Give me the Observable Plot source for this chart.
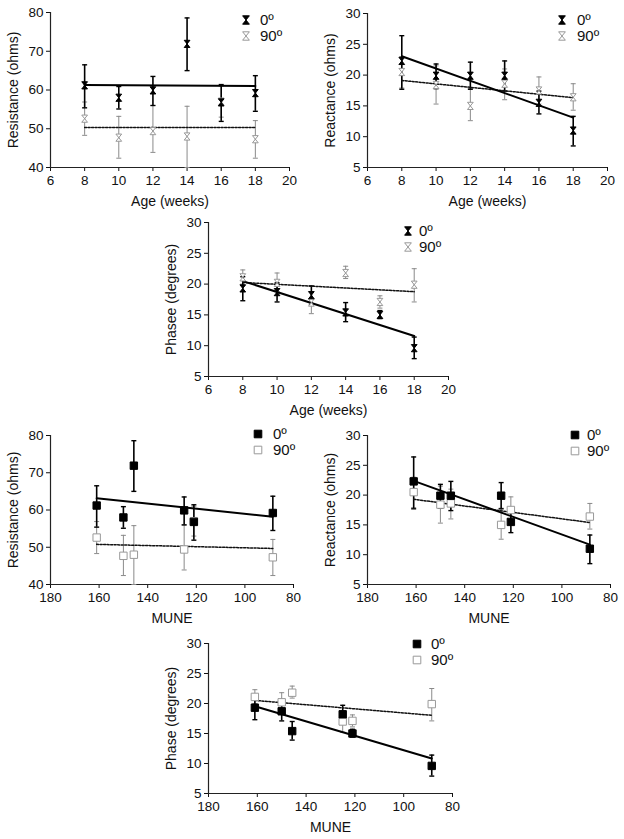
<!DOCTYPE html>
<html><head><meta charset="utf-8">
<script src="https://cdn.jsdelivr.net/npm/d3@7"></script>
<script src="https://cdn.jsdelivr.net/npm/@observablehq/plot@0.6"></script>
<style>
body{margin:0;background:#fff;}
#wrap{position:relative;width:624px;height:839px;font-family:"Liberation Sans",Arial,sans-serif;color:#111;overflow:hidden;}
.panel{position:absolute;}
.leg{position:absolute;font-size:15px;line-height:16px;transform:translateY(-50%);white-space:nowrap;}
.legsym{position:absolute;}
</style></head><body><div id="wrap"></div>
<script>
// ---- data ----
const ages = [8, 10, 12, 14, 16, 18];
const mune = [161, 150, 125, 145.7, 121, 88.5];

const res0   = [61.2, 58.0, 59.9, 71.9, 56.8, 59.2];
const res0Lo = [55.4, 55.1, 56.0, 65.0, 51.9, 54.5];
const res0Hi = [66.5, 60.9, 63.5, 78.6, 61.4, 63.7];
const res90   = [52.6, 47.7, 49.4, 48.0, 57.0, 47.3];
const res90Lo = [48.3, 42.4, 43.9, 40.0, 53.0, 42.4];
const res90Hi = [56.9, 53.2, 56.0, 55.8, 61.0, 52.1];

const reac0   = [22.3, 19.9, 19.9, 19.9, 15.5, 11.0];
const reac0Lo = [17.7, 17.8, 17.7, 17.4, 13.7, 8.5];
const reac0Hi = [26.4, 21.8, 22.1, 22.3, 17.4, 13.3];
const reac90   = [20.5, 18.4, 15.0, 18.6, 17.5, 16.4];
const reac90Lo = [17.9, 15.3, 12.6, 16.0, 15.3, 14.3];
const reac90Hi = [23.0, 21.5, 17.8, 21.0, 19.7, 18.6];

const phase0   = [19.3, 18.7, 18.2, 15.4, 15.0, 9.6];
const phase0Lo = [17.3, 17.1, 16.7, 13.9, 14.4, 7.9];
const phase0Hi = [21.2, 20.2, 19.7, 17.0, 15.7, 11.4];
const phase90   = [21.1, 20.2, 17.0, 21.8, 17.1, 19.9];
const phase90Lo = [20.0, 18.8, 15.2, 20.9, 16.1, 17.1];
const phase90Hi = [22.3, 21.8, 18.8, 22.9, 18.1, 22.5];

const ageTicks = [6, 8, 10, 12, 14, 16, 18, 20];
const muneTicks = [180, 160, 140, 120, 100, 80];
const resTicks = [40, 50, 60, 70, 80];
const reacTicks = [5, 10, 15, 20, 25, 30];
const phaseTicks = [5, 10, 15, 20, 25, 30];
const seriesLabels = ["0º", "90º"];

// ---- helpers ----
const rows = (xs, y, lo, hi) => xs.map((x, i) => ({x, y: y[i], lo: lo[i], hi: hi[i]}));
const BLACK = "#000", GRAY = "#999", EGRAY = "#8a8a8a";

const hourglass = {draw(ctx, size) {
  const r = Math.sqrt(size / Math.PI), w = r * 0.8, h = r;
  ctx.moveTo(-w, -h); ctx.lineTo(w, -h); ctx.lineTo(-w, h); ctx.lineTo(w, h); ctx.closePath();
}};
const squareSym = {draw(ctx, size) {
  const r = Math.sqrt(size / Math.PI);
  ctx.moveTo(-r, -r); ctx.lineTo(r, -r); ctx.lineTo(r, r); ctx.lineTo(-r, r); ctx.closePath();
}};
const cap = {draw(ctx, size) {
  const r = Math.sqrt(size / Math.PI);
  ctx.moveTo(-r, 0); ctx.lineTo(r, 0);
}};

const wrap = document.getElementById("wrap");

function panel(o) {
  const mL = 50, mT = 12, mR = 10, mB = 45;
  const d0 = o.d0, d90 = o.d90;
  const sym = o.symbol, symR = o.symR;
  const plot = Plot.plot({
    width: o.w + mL + mR, height: o.h + mT + mB,
    marginLeft: mL, marginTop: mT, marginRight: mR, marginBottom: mB,
    style: {fontSize: "13.5px", fontFamily: "'Liberation Sans', Arial, sans-serif", color: "#111", background: "transparent", overflow: "visible"},
    x: {domain: o.xDomain, ticks: o.xTicks, tickSize: 4, tickPadding: 4, label: null, tickFormat: d => d},
    y: {domain: o.yDomain, ticks: o.yTicks, tickSize: 4, tickPadding: 3, label: null, tickFormat: d => d},
    marks: [
      Plot.ruleX([o.xDomain[0]], {stroke: "#222", strokeWidth: 1.2}),
      Plot.ruleY([o.yDomain[0]], {stroke: "#222", strokeWidth: 1.2}),
      // 90 error bars
      Plot.ruleX(d90, {x: "x", y1: "lo", y2: "hi", stroke: EGRAY, strokeWidth: 1}),
      Plot.dot(d90, {x: "x", y: "lo", symbol: cap, r: 2.5, stroke: EGRAY, fill: "none", strokeWidth: 1}),
      Plot.dot(d90, {x: "x", y: "hi", symbol: cap, r: 2.5, stroke: EGRAY, fill: "none", strokeWidth: 1}),
      // 0 error bars
      Plot.ruleX(d0, {x: "x", y1: "lo", y2: "hi", stroke: BLACK, strokeWidth: 1.6}),
      Plot.dot(d0, {x: "x", y: "lo", symbol: cap, r: 2.5, stroke: BLACK, fill: "none", strokeWidth: 1.4}),
      Plot.dot(d0, {x: "x", y: "hi", symbol: cap, r: 2.5, stroke: BLACK, fill: "none", strokeWidth: 1.4}),
      // regression lines
      Plot.linearRegressionY(d90, {x: "x", y: "y", stroke: "#111", strokeWidth: 1.5, strokeDasharray: "2,1.5", ci: 0}),
      Plot.linearRegressionY(d0, {x: "x", y: "y", stroke: "#000", strokeWidth: 2, ci: 0}),
      // markers
      Plot.dot(d90, {x: "x", y: "y", symbol: sym, r: symR, stroke: GRAY, fill: "white", strokeWidth: 1}),
      Plot.dot(d0, {x: "x", y: "y", symbol: sym, r: symR, stroke: BLACK, fill: BLACK, strokeWidth: 1}),
      // axis titles
      Plot.text([o.yLabel], {text: d => d, frameAnchor: "left", textAnchor: "middle", lineAnchor: "middle", rotate: -90, dx: -37, fontSize: 14, fill: "#111"}),
      Plot.text([o.xLabel], {text: d => d, frameAnchor: "bottom", textAnchor: "middle", lineAnchor: "middle", dy: 34, fontSize: 14, fill: "#111"})
    ]
  });
  plot.classList.add("panel");
  plot.style.left = (o.left - mL) + "px";
  plot.style.top = (o.top - mT) + "px";
  wrap.appendChild(plot);

  // legend
  seriesLabels.forEach((lab, i) => {
    const cy = o.leg.sy + i * 16;
    const s = 14;
    const svg = d3.create("svg").attr("width", s).attr("height", s).attr("class", "legsym")
      .style("left", (o.leg.sx - s / 2) + "px").style("top", (cy - s / 2) + "px");
    const p = d3.path();
    sym.draw(p, Math.PI * o.legR * o.legR);
    svg.append("path").attr("d", p.toString()).attr("transform", `translate(${s / 2},${s / 2})`)
      .attr("fill", i === 0 ? BLACK : "white").attr("stroke", i === 0 ? BLACK : GRAY).attr("stroke-width", 1);
    wrap.appendChild(svg.node());
    const t = document.createElement("div");
    t.className = "leg"; t.textContent = lab;
    t.style.left = o.leg.tx + "px"; t.style.top = cy + "px";
    wrap.appendChild(t);
  });
}

const ageCfg = {xDomain: [6, 20], xTicks: ageTicks, xLabel: "Age (weeks)", symbol: hourglass, symR: 3.6, legR: 4.2};
const muneCfg = {xDomain: [180, 80], xTicks: muneTicks, xLabel: "MUNE", symbol: squareSym, symR: 3.7, legR: 3.8};

panel({...ageCfg, left: 50, top: 12, w: 239, h: 155, yDomain: [40, 80], yTicks: resTicks, yLabel: "Resistance (ohms)",
  d0: rows(ages, res0, res0Lo, res0Hi), d90: rows(ages, res90, res90Lo, res90Hi), leg: {sx: 245.5, sy: 19.5, tx: 260}});
panel({...ageCfg, left: 367, top: 13, w: 240, h: 154, yDomain: [5, 30], yTicks: reacTicks, yLabel: "Reactance (ohms)",
  d0: rows(ages, reac0, reac0Lo, reac0Hi), d90: rows(ages, reac90, reac90Lo, reac90Hi), leg: {sx: 562, sy: 20, tx: 577}});
panel({...ageCfg, left: 208, top: 222, w: 240, h: 154, yDomain: [5, 30], yTicks: phaseTicks, yLabel: "Phasee (degrees)",
  d0: rows(ages, phase0, phase0Lo, phase0Hi), d90: rows(ages, phase90, phase90Lo, phase90Hi), leg: {sx: 408, sy: 231, tx: 419}});
panel({...muneCfg, left: 50, top: 435, w: 243, h: 149, yDomain: [40, 80], yTicks: resTicks, yLabel: "Resistance (ohms)",
  d0: rows(mune, res0, res0Lo, res0Hi), d90: rows(mune, res90, res90Lo, res90Hi), leg: {sx: 258, sy: 434, tx: 273}});
panel({...muneCfg, left: 367, top: 435, w: 243, h: 149, yDomain: [5, 30], yTicks: reacTicks, yLabel: "Reactance (ohms)",
  d0: rows(mune, reac0, reac0Lo, reac0Hi), d90: rows(mune, reac90, reac90Lo, reac90Hi), leg: {sx: 575, sy: 435, tx: 587}});
panel({...muneCfg, left: 208, top: 643, w: 244, h: 150, yDomain: [5, 30], yTicks: phaseTicks, yLabel: "Phase (degrees)",
  d0: rows(mune, phase0, phase0Lo, phase0Hi), d90: rows(mune, phase90, phase90Lo, phase90Hi), leg: {sx: 417, sy: 644, tx: 431}});
</script>
</body></html>
